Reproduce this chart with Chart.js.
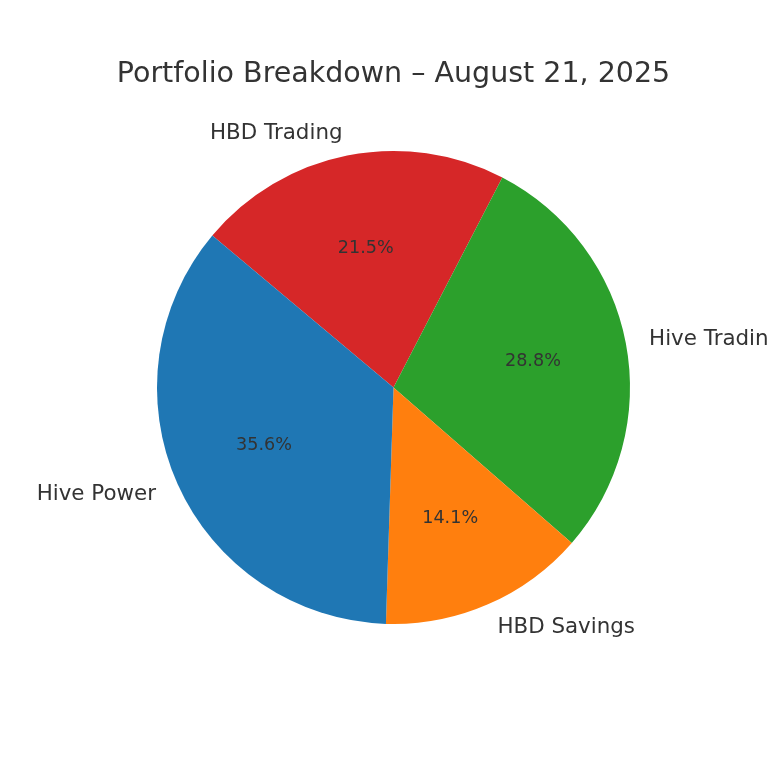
<!DOCTYPE html>
<html>
<head>
<meta charset="utf-8">
<script src="https://cdn.jsdelivr.net/npm/chart.js@4.4.1/dist/chart.umd.min.js"></script>
<style>
html,body{margin:0;padding:0;background:#fff;}
#wrap{width:768px;height:768px;}
</style>
</head>
<body>
<div id="wrap"><canvas id="c" width="768" height="768"></canvas></div>
<script>
// Data (ordered clockwise as drawn)
const labels = ["HBD Trading", "Hive Trading", "HBD Savings", "Hive Power"];
const values = [21.5, 28.8, 14.1, 35.6];
const colors = ["#d62728", "#2ca02c", "#ff7f0e", "#1f77b4"];
const titleText = "Portfolio Breakdown \u2013 August 21, 2025";

const FONT = "'DejaVu Sans', sans-serif";
const TEXT = "#333333";

const labelPlugin = {
  id: 'pieLabels',
  afterDatasetsDraw(chart) {
    const ctx = chart.ctx;
    const meta = chart.getDatasetMeta(0);
    const total = values.reduce((a, b) => a + b, 0);
    ctx.save();
    meta.data.forEach((arc, i) => {
      const p = arc.getProps(['startAngle', 'endAngle', 'outerRadius', 'x', 'y'], true);
      const mid = (p.startAngle + p.endAngle) / 2;
      const cx = Math.cos(mid), cy = Math.sin(mid);
      ctx.fillStyle = TEXT;
      ctx.font = "17.6px " + FONT;
      ctx.textAlign = 'center';
      ctx.textBaseline = 'middle';
      const pct = (values[i] / total * 100).toFixed(1) + '%';
      ctx.fillText(pct, p.x + cx * p.outerRadius * 0.6, p.y + cy * p.outerRadius * 0.6 + 0.5);
      ctx.font = "21.4px " + FONT;
      ctx.textAlign = cx > 0 ? 'left' : 'right';
      ctx.fillText(labels[i], p.x + cx * p.outerRadius * 1.1, p.y + cy * p.outerRadius * 1.1 + 1);
    });
    ctx.font = "28.5px " + FONT;
    ctx.textAlign = 'center';
    ctx.textBaseline = 'alphabetic';
    ctx.fillStyle = TEXT;
    const area = chart.chartArea;
    ctx.fillText(titleText, (area.left + area.right) / 2, 82);
    ctx.restore();
  }
};

new Chart(document.getElementById('c'), {
  type: 'pie',
  data: {
    labels: labels,
    datasets: [{
      data: values,
      backgroundColor: colors,
      borderWidth: 0
    }]
  },
  options: {
    responsive: false,
    devicePixelRatio: 1,
    animation: false,
    rotation: -50,
    layout: { padding: { left: 157, right: 138, top: 151, bottom: 144 } },
    plugins: {
      legend: { display: false },
      title: { display: false },
      tooltip: { enabled: false }
    }
  },
  plugins: [labelPlugin]
});
</script>
</body>
</html>
